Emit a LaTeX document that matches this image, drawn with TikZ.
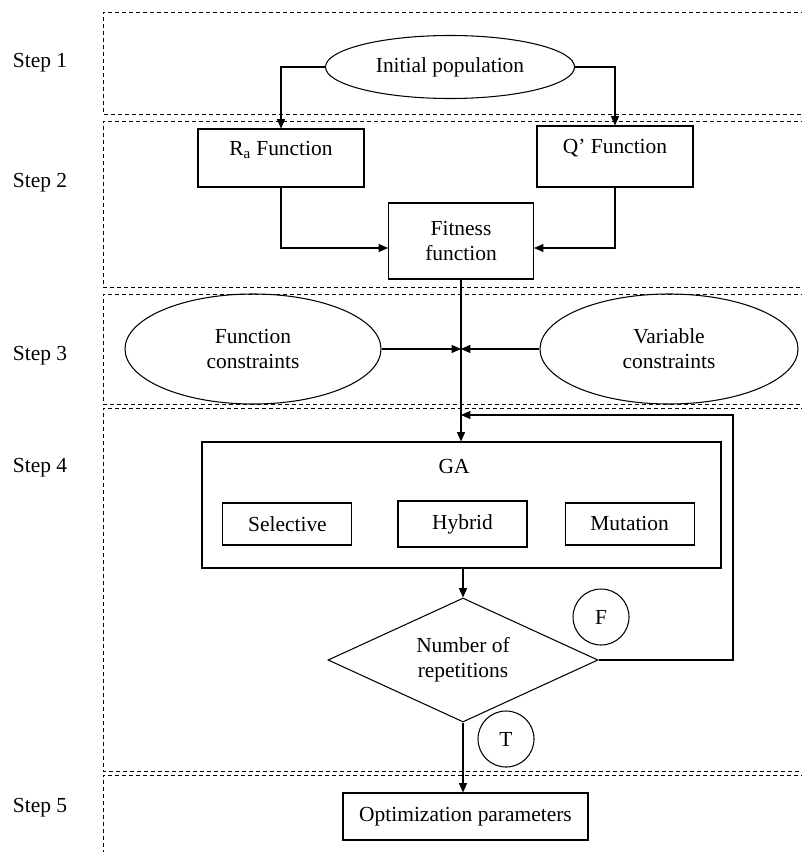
\documentclass[tikz,border=0pt]{standalone}
\usepackage{fontspec}
\setmainfont{Liberation Serif}
\usetikzlibrary{shapes.geometric, positioning, arrows.meta}

\begin{document}
\begin{tikzpicture}[
    x=0.03cm, y=-0.03cm,
    font=\fontsize{18.3}{21.5}\selectfont,
    line width=0.9pt,
    % Styles
    stepline/.style={
        draw,
        line width=0.6pt,
        dash pattern=on 0.13cm off 0.08cm
    },
    steplbl/.style={
        inner sep=0pt
    },
    oval/.style={
        draw,
        ellipse,
        inner sep=0pt,
        align=center
    },
    funcbox/.style={
        draw,
        rectangle,
        align=center,
        inner sep=2pt
    },
    opbox/.style={
        draw,
        rectangle,
        minimum width=3.87cm,
        minimum height=1.26cm
    },
    decision/.style={
        draw,
        diamond,
        aspect=2.2,
        inner sep=0pt,
        align=center,
        minimum width=8.1cm,
        minimum height=3.72cm
    },
    flag/.style={
        draw,
        circle,
        inner sep=0pt,
        minimum size=1.68cm
    },
    arrow/.style={-{Triangle[length=0.28cm,width=0.24cm]}}
]
    \useasboundingbox (0,0) rectangle (801,852);

    % --- STEP FRAMES ---
    \foreach \ya/\yb in {12/114, 121/287, 294/404, 408/771}
        \draw[stepline] (805,\ya) -- (103,\ya) -- (103,\yb) -- (805,\yb);
    \draw[stepline] (805,775) -- (103,775) -- (103,852);

    \foreach \n/\yy in {1/63, 2/183, 3/356, 4/468, 5/808}
        \node[steplbl] (step\n) at (40,\yy) {Step \n};

    % --- STEP 1 ---
    \node[oval, minimum width=7.47cm, minimum height=1.89cm] (init) at (450,67) {Initial population};

    % --- STEP 2 ---
    \node[funcbox, minimum width=4.98cm, minimum height=1.74cm, text depth=0.58cm] (ra) at (281,158) {R\textsubscript{a} Function};
    \node[funcbox, minimum width=4.68cm, minimum height=1.83cm, text depth=0.6cm] (qf) at (615,156.5) {Q’ Function};
    \node[funcbox, minimum width=4.35cm, minimum height=2.28cm] (fit) at (461,241) {Fitness\\function};

    % --- STEP 3 ---
    \node[oval, minimum width=7.68cm, minimum height=3.3cm] (fcon) at (253,349) {Function\\constraints};
    \node[oval, minimum width=7.74cm, minimum height=3.3cm] (vcon) at (669,349) {Variable\\constraints};

    % --- STEP 4 ---
    \node[funcbox, minimum width=15.57cm, minimum height=3.78cm] (ga) at (461.5,505) {};
    \node (galbl) at (454,467) {GA};
    \node[opbox, minimum height=1.38cm] (hyb) at (462.5,524) {Hybrid};
    \node[opbox, left=1.35cm of hyb] (sel) {Selective};
    \node[opbox, right=1.11cm of hyb] (mut) {Mutation};

    \node[decision] (rep) at (463,660) {Number of\\repetitions};
    \node[flag] (fflag) at (601,617) {F};
    \node[flag] (tflag) at (506,739) {T};

    % --- STEP 5 ---
    \node[funcbox, minimum width=7.35cm, minimum height=1.41cm] (opt) at (465.5,816.5) {Optimization parameters};

    % --- ARROWS ---
    \draw[arrow] (init.west) -| (ra.north);
    \draw[arrow] (init.east) -| (qf.north);
    \draw[arrow] (ra.south) |- ([yshift=-0.21cm]fit.west);
    \draw[arrow] (qf.south) |- ([yshift=-0.21cm]fit.east);

    \coordinate (jn) at (fit.south |- fcon.east);
    \draw[arrow] (fit.south) -- (fit.south |- ga.north);
    \draw[arrow] (fcon.east) -- (jn);
    \draw[arrow] (vcon.west) -- (jn);

    \draw[arrow] (ga.south -| rep.north) -- (rep.north);
    \draw[arrow] (rep.south) -- (rep.south |- opt.north);

    % Loop back (F)
    \coordinate (fbturn) at (733,415);
    \coordinate (fb) at (fit.south |- fbturn);
    \draw[arrow] (rep.east) -| (fbturn) -- (fb);

\end{tikzpicture}
\end{document}
